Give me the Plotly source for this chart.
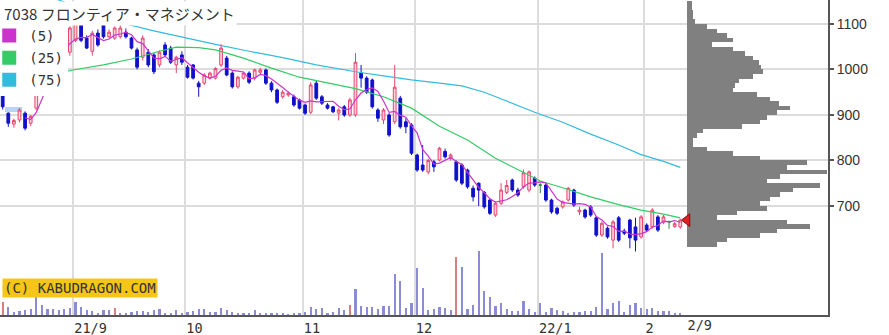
import pandas as pd
import plotly.graph_objects as go

# ---------------- data ----------------
holidays = ["2021-09-20", "2021-09-23", "2021-11-03", "2021-11-23",
            "2021-12-31", "2022-01-03", "2022-01-10"]
dates = pd.bdate_range("2021-08-13", "2022-02-09", freq="C", holidays=holidays)

open_ = [944, 904, 880, 889, 904, 882, 915, 1000, 1046, 1050, 1046, 1020, 1038, 1064, 1098, 1069, 1040, 1080, 1098, 1072,
         1069, 1072, 1082, 1069, 1043, 1027, 1038, 1032, 1010, 1054, 1047, 1010, 1032, 1005, 1010, 970, 970, 981, 981, 1010,
         1025, 992, 962, 981, 992, 981, 994, 999, 970, 955, 940, 944, 940, 933, 922, 906, 970, 940, 922, 918,
         904, 918, 900, 900, 992, 981, 977, 911, 889, 900, 885, 937, 885, 878, 812, 790, 775, 797, 801, 820,
         805, 797, 790, 779, 739, 750, 730, 713, 680, 706, 730, 757, 735, 742, 735, 761, 746, 746, 713, 695,
         698, 713, 735, 687, 691, 698, 674, 636, 651, 625, 674, 645, 669, 654, 632, 658, 654, 676, 664, 665,
         655, 654]
high = [950, 906, 892, 915, 908, 900, 965, 1045, 1052, 1054, 1052, 1050, 1095, 1146, 1110, 1075, 1085, 1088, 1112, 1088,
        1095, 1098, 1090, 1072, 1048, 1075, 1045, 1036, 1042, 1060, 1052, 1030, 1040, 1010, 1012, 975, 992, 995, 1005, 1056,
        1030, 996, 986, 995, 996, 1002, 1004, 1002, 974, 958, 955, 952, 945, 936, 925, 972, 975, 944, 926, 920,
        915, 922, 938, 1036, 1010, 985, 980, 915, 915, 904, 1010, 942, 893, 882, 815, 834, 804, 801, 830, 826,
        816, 800, 794, 782, 745, 752, 733, 716, 710, 750, 757, 760, 740, 780, 778, 765, 750, 750, 716, 698,
        712, 742, 738, 698, 694, 702, 678, 666, 655, 669, 678, 650, 672, 674, 680, 662, 695, 680, 680, 668,
        665, 672]
low = [912, 874, 872, 884, 866, 876, 910, 995, 1040, 1044, 1042, 1005, 1030, 1060, 1060, 1045, 1030, 1050, 1068, 1068,
       1065, 1068, 1068, 1044, 1000, 1020, 1005, 990, 1005, 1028, 1012, 992, 1010, 980, 978, 940, 966, 978, 978, 1005,
       985, 958, 958, 978, 968, 976, 990, 966, 950, 924, 936, 940, 918, 912, 900, 902, 933, 922, 912, 904,
       888, 896, 896, 896, 960, 946, 914, 885, 880, 852, 880, 870, 860, 812, 775, 775, 770, 775, 798, 804,
       800, 753, 746, 738, 710, 700, 694, 680, 676, 702, 726, 731, 720, 738, 730, 742, 728, 709, 683, 680,
       694, 710, 698, 680, 672, 676, 632, 632, 628, 607, 621, 636, 607, 600, 628, 643, 650, 643, 660, 650,
       652, 650]
close = [918, 882, 888, 911, 871, 897, 961, 1040, 1050, 1046, 1048, 1047, 1091, 1102, 1064, 1047, 1080, 1054, 1072, 1082,
         1091, 1091, 1072, 1047, 1005, 1069, 1010, 995, 1038, 1032, 1016, 1027, 1016, 983, 981, 962, 988, 992, 1002, 1047,
         988, 962, 983, 992, 972, 999, 999, 970, 955, 928, 950, 948, 922, 915, 904, 966, 937, 926, 915, 907,
         911, 900, 933, 1016, 981, 950, 918, 893, 911, 856, 961, 874, 874, 816, 779, 779, 800, 786, 827, 808,
         812, 757, 750, 742, 720, 735, 698, 684, 706, 735, 745, 735, 724, 773, 775, 746, 746, 713, 687, 684,
         709, 739, 702, 691, 676, 680, 636, 662, 632, 665, 625, 640, 630, 625, 676, 647, 691, 647, 676, 665,
         661, 669]

volume = [13, 8, 3, 4, 5, 6, 20, 10, 6, 6, 5, 6, 7, 13, 8, 5, 4, 2, 5, 5,
          7, 2, 2, 3, 4, 4, 3, 5, 6, 2, 2, 5, 2, 3, 4, 6, 6, 3, 3, 7,
          5, 3, 2, 2, 2, 5, 2, 2, 2, 2, 2, 1, 2, 2, 3, 8, 6, 7, 2, 3,
          7, 5, 10, 26, 9, 8, 8, 6, 9, 9, 41, 34, 7, 12, 47, 27, 5, 6, 8, 7,
          5, 58, 48, 6, 10, 64, 24, 18, 9, 12, 6, 4, 4, 14, 6, 3, 12, 3, 7, 5,
          4, 2, 3, 3, 4, 4, 8, 62, 6, 12, 14, 3, 10, 12, 7, 6, 7, 4, 4, 4,
          2, 2]
volume_red_days = [0, 20, 62, 81]

ma25_idx = [10, 13, 18, 23, 28, 31, 35, 38, 43, 48, 53, 58, 63, 68, 73, 78, 83, 88, 92, 96,
            100, 105, 110, 114, 118, 121]
ma25_val = [992, 1000, 1010, 1023, 1040, 1049, 1048, 1043, 1025, 1003, 983, 970, 958, 940, 915, 875, 845, 805, 780, 755,
            740, 720, 703, 691, 682, 674]
ma75_idx = [9, 12, 17, 22, 27, 32, 38, 44, 50, 56, 63, 68, 73, 78, 82, 86, 90, 95, 100, 105, 110, 114, 118, 121]
ma75_val = [1158, 1143, 1120, 1100, 1085, 1071, 1055, 1040, 1026, 1010, 995, 986, 977, 970, 964, 950, 930, 906, 884, 858,
            834, 813, 798, 785]

prof_price = list(range(1145, 610, -10))
prof_size = [5, 5, 6, 6, 8, 20, 30, 40, 46, 25, 46, 58, 66, 72, 74, 76, 66, 52, 48, 46,
             70, 83, 92, 103, 90, 80, 73, 55, 16, 10, 6, 6, 20, 46, 73, 120, 100, 140, 93, 80,
             133, 106, 93, 83, 73, 80, 50, 30, 100, 123, 90, 73, 40, 30]

band_from = [0, 1]
band_to = [5, 3]
band_lo = [948, 907]
band_hi = [961, 918]

tick_labels = ["21/9", "10", "11", "12", "22/1", "2"]
last_label = "2/9"
title_text = "7038 フロンティア・マネジメント"
ma_names = ["(5)", "(25)", "(75)"]

# ---------------- styles ----------------
C_UP_LINE = "#e8466e"
C_UP_FILL = "#ffd3de"
C_DN = "#1010cc"
C_DOJI = "#2a8a3a"
C_MA5 = "#cc33cc"
C_MA25 = "#33cc66"
C_MA75 = "#33bbdd"
C_VOL = "#8c8cd4"
C_VOL_RED = "#d88080"
C_GRID = "#dcdcdc"
C_AXIS = "#555555"
C_TEXT = "#333333"

n = len(close)
idx = list(range(n))
ma5 = pd.Series(close).rolling(5).mean().tolist()

month_start = [i for i in idx[1:] if dates[i].month != dates[i - 1].month]
grid_pos = [m - 0.4 for m in month_start]

x_range = [-0.48, -0.48 + 828 / 5.6]

fig = go.Figure()

# light blue bands
fig.add_trace(go.Bar(
    x=[(a + b) / 2 for a, b in zip(band_from, band_to)],
    width=[b - a + 1 for a, b in zip(band_from, band_to)],
    base=band_lo, y=[h - l for h, l in zip(band_hi, band_lo)],
    marker=dict(color="#b8d4f4", line=dict(width=0)), showlegend=False, hoverinfo="skip"))

def sub(lst, ids):
    return [lst[i] for i in ids]

groups = [
    ([i for i in idx if close[i] > open_[i]], C_UP_LINE, C_UP_FILL, C_UP_LINE, C_UP_FILL),
    ([i for i in idx if close[i] < open_[i]], C_DN, C_DN, C_DN, C_DN),
    ([i for i in idx if close[i] == open_[i]], C_DOJI, C_DOJI, C_DOJI, C_DOJI),
]
for ids, il, ifl, dl, dfl in groups:
    if not ids:
        continue
    fig.add_trace(go.Candlestick(
        x=ids, open=sub(open_, ids), high=sub(high, ids), low=sub(low, ids), close=sub(close, ids),
        increasing=dict(line=dict(color=il, width=1), fillcolor=ifl),
        decreasing=dict(line=dict(color=dl, width=1), fillcolor=dfl),
        showlegend=False, hoverinfo="skip"))

fig.add_trace(go.Scatter(x=ma75_idx, y=ma75_val, mode="lines", line=dict(color=C_MA75, width=1.2),
                         showlegend=False, hoverinfo="skip"))
fig.add_trace(go.Scatter(x=ma25_idx, y=ma25_val, mode="lines", line=dict(color=C_MA25, width=1.2),
                         showlegend=False, hoverinfo="skip"))
fig.add_trace(go.Scatter(x=idx, y=ma5, mode="lines", line=dict(color=C_MA5, width=1.2),
                         showlegend=False, hoverinfo="skip"))

# legend entries
for k, (name, col) in enumerate(zip(ma_names, [C_MA5, C_MA25, C_MA75])):
    fig.add_trace(go.Scatter(x=[None], y=[None], mode="markers", name=name, legendgroup=f"g{k}",
                             marker=dict(symbol="square", size=14, color=col)))

# volume
fig.add_trace(go.Bar(
    x=idx, y=volume, width=0.36, yaxis="y3",
    marker=dict(color=[C_VOL_RED if i in volume_red_days else C_VOL for i in idx], line=dict(width=0)),
    showlegend=False, hoverinfo="skip"))

# volume profile
fig.add_trace(go.Bar(
    y=prof_price, x=prof_size, orientation="h", width=10, xaxis="x2", yaxis="y",
    marker=dict(color="#808080", line=dict(width=0)), showlegend=False, hoverinfo="skip"))

# current price marker
fig.add_trace(go.Scatter(
    x=[0], y=[close[-1]], xaxis="x2", yaxis="y", mode="markers",
    marker=dict(symbol="triangle-left", size=11, color="#e02020", line=dict(color="#801010", width=1)),
    showlegend=False, hoverinfo="skip"))

# carrier for last date label
fig.add_trace(go.Scatter(x=[None], y=[None], xaxis="x3", yaxis="y", showlegend=False, hoverinfo="skip"))

fig.update_layout(
    template="none",
    width=889, height=335,
    margin=dict(l=0, r=61, t=0, b=20, pad=0, autoexpand=False),
    paper_bgcolor="white", plot_bgcolor="white",
    showlegend=True,
    legend=dict(x=-0.013, y=0.937, xanchor="left", yanchor="top", bgcolor="white",
                font=dict(family="DejaVu Sans Mono", size=14, color=C_TEXT),
                itemclick=False, traceorder="grouped", tracegroupgap=1, borderwidth=0),
    xaxis=dict(range=x_range, tickmode="array", tickvals=grid_pos, ticktext=tick_labels,
               ticklabelposition="outside right", ticks="",
               showgrid=True, gridcolor=C_GRID, gridwidth=1.5, zeroline=False,
               showline=True, linecolor=C_AXIS, linewidth=2,
               tickfont=dict(family="DejaVu Sans Mono", size=13.5, color=C_TEXT),
               rangeslider=dict(visible=False), automargin=False, fixedrange=True),
    xaxis2=dict(range=[-687, 141], overlaying="x", visible=False, fixedrange=True),
    xaxis3=dict(range=x_range, overlaying="x", anchor="y", tickmode="array",
                tickvals=[n - 1 + 1.3], ticktext=[last_label], ticklabelposition="outside right",
                ticks="", showgrid=False, showline=False, zeroline=False,
                tickfont=dict(family="DejaVu Sans Mono", size=13.5, color=C_TEXT), fixedrange=True),
    yaxis=dict(range=[460.4, 1152.7], side="right", tickmode="array", tickvals=[700, 800, 900, 1000, 1100],
               ticks="outside", ticklen=4, tickcolor=C_AXIS, tickwidth=1.5,
               showgrid=True, gridcolor=C_GRID, gridwidth=1.5, zeroline=False,
               showline=True, linecolor=C_AXIS, linewidth=2,
               tickfont=dict(family="Liberation Sans", size=14, color=C_TEXT),
               automargin=False, fixedrange=True),
    yaxis3=dict(range=[0, 315], overlaying="y", visible=False, fixedrange=True),
    bargap=0,
    annotations=[
        dict(text=title_text, xref="paper", yref="paper", x=0.002, y=1 - 14 / 315, xanchor="left",
             yanchor="middle", showarrow=False, bgcolor="white", borderpad=1,
             font=dict(family="Noto Sans CJK JP", size=15, color=C_TEXT)),
        dict(text="(C) KABUDRAGON.COM", xref="paper", yref="paper", x=0.002, y=1 - 287.5 / 315,
             xanchor="left", yanchor="middle", showarrow=False, bgcolor="#f5c518", borderpad=1,
             font=dict(family="DejaVu Sans Mono", size=14, color=C_TEXT)),
    ],
)

fig.write_html("out.html")
